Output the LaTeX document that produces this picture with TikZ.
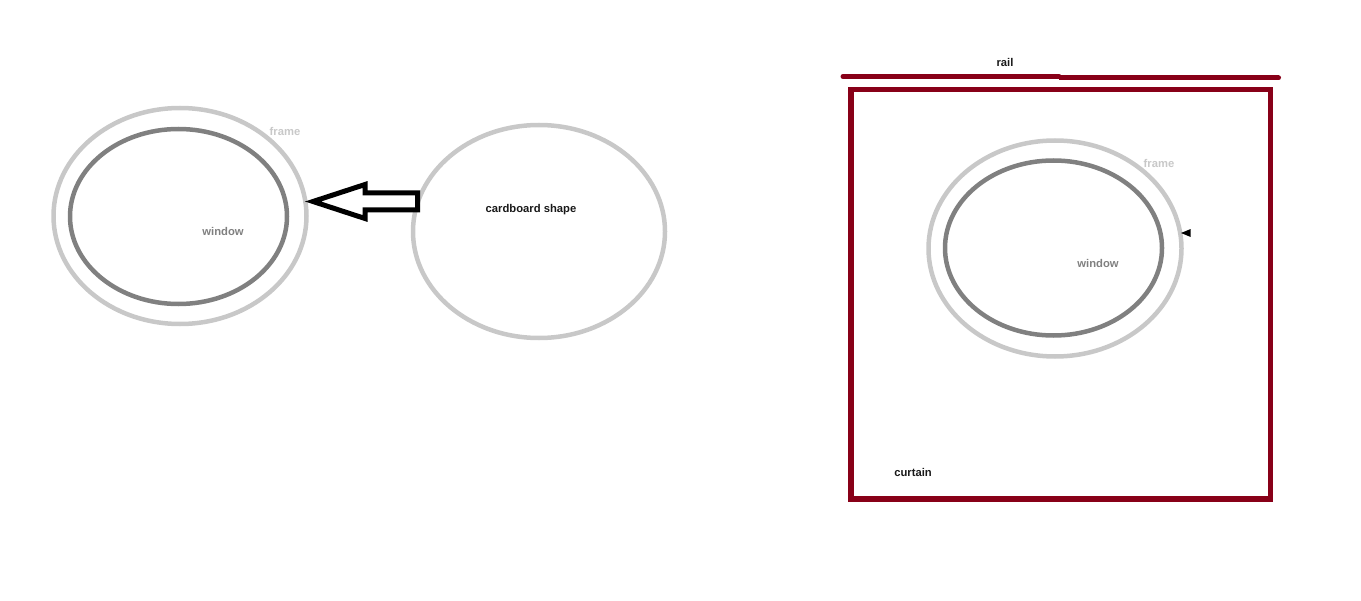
\documentclass[tikz,border=0pt]{standalone}
\usepackage{fontspec}
\setmainfont{Liberation Sans}
\usepackage{tikz}
\usetikzlibrary{shapes.geometric}
\definecolor{granate}{RGB}{136,0,24}
\definecolor{grisclaro}{RGB}{200,200,200}
\definecolor{grisoscuro}{RGB}{128,128,128}
\tikzstyle{marco} = [ellipse,
                     draw=grisclaro,
                     line width=0.09cm,
                     inner sep=0pt,
                     minimum width=5.06cm,
                     minimum height=4.32cm]
\tikzstyle{ventana} = [ellipse,
                       draw=grisoscuro,
                       line width=0.09cm,
                       inner sep=0pt,
                       minimum width=4.34cm,
                       minimum height=3.5cm]
\tikzstyle{carton} = [ellipse,
                      draw=grisclaro,
                      line width=0.09cm,
                      inner sep=0pt,
                      minimum width=5.04cm,
                      minimum height=4.26cm]
\tikzstyle{cortina} = [rectangle,
                       draw=granate,
                       line width=0.11cm,
                       inner sep=0pt,
                       minimum width=8.39cm,
                       minimum height=8.19cm]
\tikzstyle{riel} = [draw=granate, line width=0.1cm, line cap=round]
\tikzstyle{bloque} = [draw=black, line width=0.1cm, fill=white]
\tikzstyle{etiqueta} = [font=\fontsize{6.4}{7}\selectfont\bfseries, inner sep=1pt]
\tikzstyle{tope} = [isosceles triangle,
                    fill=black,
                    inner sep=0pt,
                    shape border rotate=180,
                    minimum width=0.16cm,
                    minimum height=0.14cm]

\begin{document}
\begin{tikzpicture}
        \useasboundingbox (0,0) rectangle (27.22,12);

        % ventana sin cortina
        \node (Marco1) [marco] at (3.60,7.68) {};
        \node (Ventana1) [ventana] at (3.57,7.67) {};
        \node (Carton) [carton] at (10.78,7.37) {};
        \node (EtiqMarco1) [etiqueta, text=grisclaro] at (5.70,9.38) {frame};
        \node (EtiqVentana1) [etiqueta, text=grisoscuro] at (4.46,7.38) {window};
        \node (EtiqCarton) [etiqueta, text=black!90] at (10.62,7.80) {cardboard shape};

        \coordinate (Punta) at (6.26,7.97);
        \draw [bloque] (Punta) -- ++(1.04,0.34) -- ++(0,-0.17) -- ++(1.05,0)
            -- ++(0,-0.34) -- ++(-1.05,0) -- ++(0,-0.17) -- cycle;

        % ventana con cortina
        \node (Cortina) [cortina] at (21.215,6.115) {};
        \node (Marco2) [marco] at (21.10,7.03) {};
        \node (Ventana2) [ventana] at (21.07,7.04) {};
        \node (Tope) [tope] at (23.76,7.34) {};
        \node (EtiqMarco2) [etiqueta, text=grisclaro] at (23.18,8.74) {frame};
        \node (EtiqVentana2) [etiqueta, text=grisoscuro] at (21.96,6.74) {window};
        \node (EtiqCortina) [etiqueta, text=black!90] at (18.26,2.56) {curtain};

        \coordinate (Riel1) at (16.86,10.47);
        \coordinate (Riel2) at (21.18,10.47);
        \coordinate (Riel3) at (21.18,10.44);
        \coordinate (Riel4) at (25.57,10.44);
        \draw [riel] (Riel1) -- (Riel2);
        \draw [riel, line cap=butt] (Riel3) -- ([xshift=-0.05cm]Riel4);
        \draw [riel] ([xshift=-0.1cm]Riel4) -- (Riel4);
        \node (EtiqRiel) [etiqueta, text=black!90] at (20.10,10.76) {rail};
\end{tikzpicture}
\end{document}
